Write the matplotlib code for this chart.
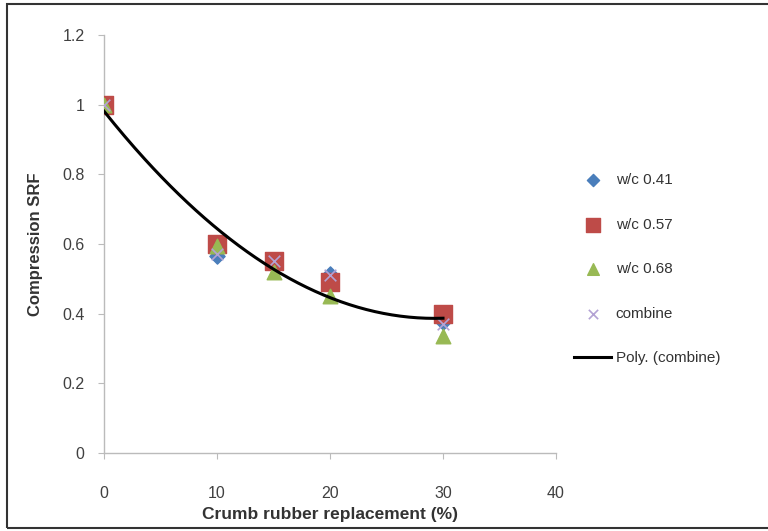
import matplotlib.pyplot as plt
import numpy as np
from matplotlib.patches import Rectangle

# data
replacement = [0, 10, 15, 20, 30]
wc041 = [1.0, 0.565, 0.55, 0.515, 0.375]
wc057 = [1.0, 0.60, 0.55, 0.49, 0.40]
wc068 = [1.0, 0.595, 0.52, 0.45, 0.335]
combine = [1.0, 0.57, 0.55, 0.51, 0.37]

xticks = [0, 10, 20, 30, 40]
yticks = [0, 0.2, 0.4, 0.6, 0.8, 1, 1.2]
ytick_labels = ["0", "0.2", "0.4", "0.6", "0.8", "1", "1.2"]

plt.rcParams['font.family'] = ['Liberation Sans', 'DejaVu Sans']

fig = plt.figure(figsize=(7.68, 5.31), dpi=100)
# outer frame of the chart
fig.patches.append(Rectangle((7/768, 3/531), 770/768, 524/531, transform=fig.transFigure,
                             fill=False, edgecolor='#333333', lw=1.5))
ax = fig.add_axes([104/768, 1-453/531, 452/768, 418/531])

ax.scatter(replacement, wc041, marker='D', s=60, color='#4A7EBB', label='w/c 0.41', zorder=3)
ax.scatter(replacement, wc057, marker='s', s=150, color='#BE4B48', label='w/c 0.57', zorder=3)
ax.scatter(replacement, wc068, marker='^', s=110, color='#98B954', label='w/c 0.68', zorder=4)
ax.scatter(replacement, combine, marker='x', s=70, color='#B3A2D4', linewidths=1.2,
           label='combine', zorder=5)

# second order trendline on all the points (Excel "Poly.")
allx = np.array(replacement * 4, dtype=float)
ally = np.array(wc041 + wc057 + wc068 + combine)
coef = np.polyfit(allx, ally, 2)
xs = np.linspace(0, 30, 200)
ax.plot(xs, np.polyval(coef, xs), color='black', lw=2.2, label='Poly. (combine)', zorder=6)

ax.set_xlim(0, 40)
ax.set_ylim(0, 1.2)
ax.set_xticks(xticks)
ax.set_yticks(yticks)
ax.set_yticklabels(ytick_labels)
for s in ['top', 'right']:
    ax.spines[s].set_visible(False)
for s in ['left', 'bottom']:
    ax.spines[s].set_color('#BBBBBB')
    ax.spines[s].set_linewidth(1.0)
ax.tick_params(direction='out', length=4, color='#BBBBBB', labelsize=11.5,
               labelcolor='#404040')
ax.tick_params(axis='x', pad=20)
ax.tick_params(axis='y', pad=10)

ax.set_ylabel('Compression SRF', fontsize=12, fontweight='bold', color='#333333', labelpad=14)
ax.set_xlabel('Crumb rubber replacement (%)', fontsize=12.5, fontweight='bold', color='#333333',
              labelpad=4)

leg = ax.legend(loc='center left', bbox_to_anchor=(1.01, 0.44), frameon=False, fontsize=11,
                labelspacing=2.0, handlelength=2.4, handletextpad=0.3, scatterpoints=1,
                labelcolor='#333333', markerscale=0.8)

fig.savefig('out.png', dpi=100)
